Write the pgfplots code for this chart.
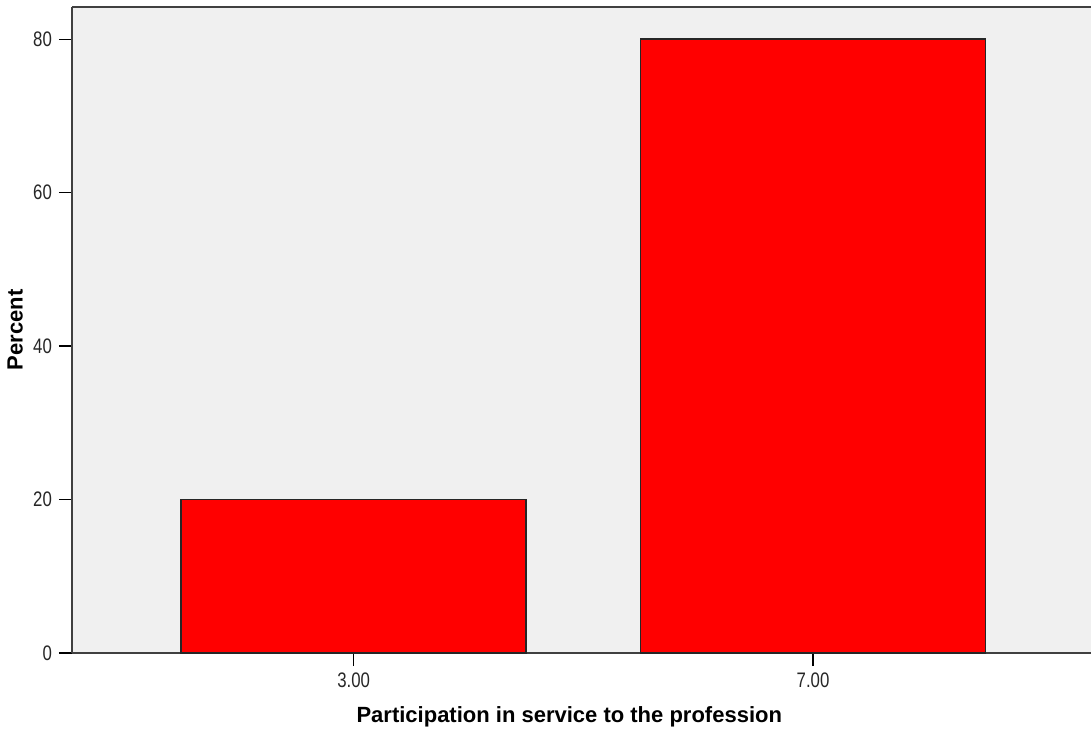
\documentclass[border=0pt]{standalone}
\usepackage{fontspec}
\setmainfont{Liberation Sans}
\newfontfamily\narrowfont[FakeStretch=0.8]{Liberation Sans}
\usepackage{pgfplots}
\pgfplotsset{compat=1.18}
\definecolor{bgc}{RGB}{240,240,240}
\definecolor{axc}{RGB}{64,64,64}
\begin{document}
\begin{tikzpicture}
\begin{axis}[
  name=ax,
  scale only axis,
  width=509.5pt, height=323pt,
  xmin=-0.613, xmax=1.605,
  ymin=0, ymax=84.2,
  axis x line*=box, axis y line*=left,
  axis line style={axc, line width=0.9pt},
  axis background/.style={fill=bgc},
  xtick={0,1}, xticklabels={3.00,7.00},
  ytick={0,20,40,60,80},
  tick align=outside,
  major tick length=6.5pt,
  tick style={black, line width=0.7pt},
  xtick pos=bottom, ytick pos=left,
  /pgf/number format/assume math mode=true,
  ticklabel style={font=\narrowfont\fontsize{10.5}{12}\selectfont, text=black!85},
  xlabel={\bfseries Participation in service to the profession},
  ylabel={\bfseries Percent},
  label style={font=\fontsize{11}{13}\selectfont},
  xlabel style={at={(axis description cs:0.488,0)}, anchor=north, yshift=-23pt},
  ylabel style={at={(axis description cs:0,0.5)}, anchor=south, yshift=21pt},
  ybar, bar width=0.751,
]
\addplot[fill=red, draw=black!85, line width=0.8pt] coordinates {(0,20) (1,80)};
\end{axis}
\pgfresetboundingbox
\path ([shift={(-36pt,-40pt)}]ax.south west) rectangle ([shift={(0pt,3.5pt)}]ax.north east);
\end{tikzpicture}
\end{document}
